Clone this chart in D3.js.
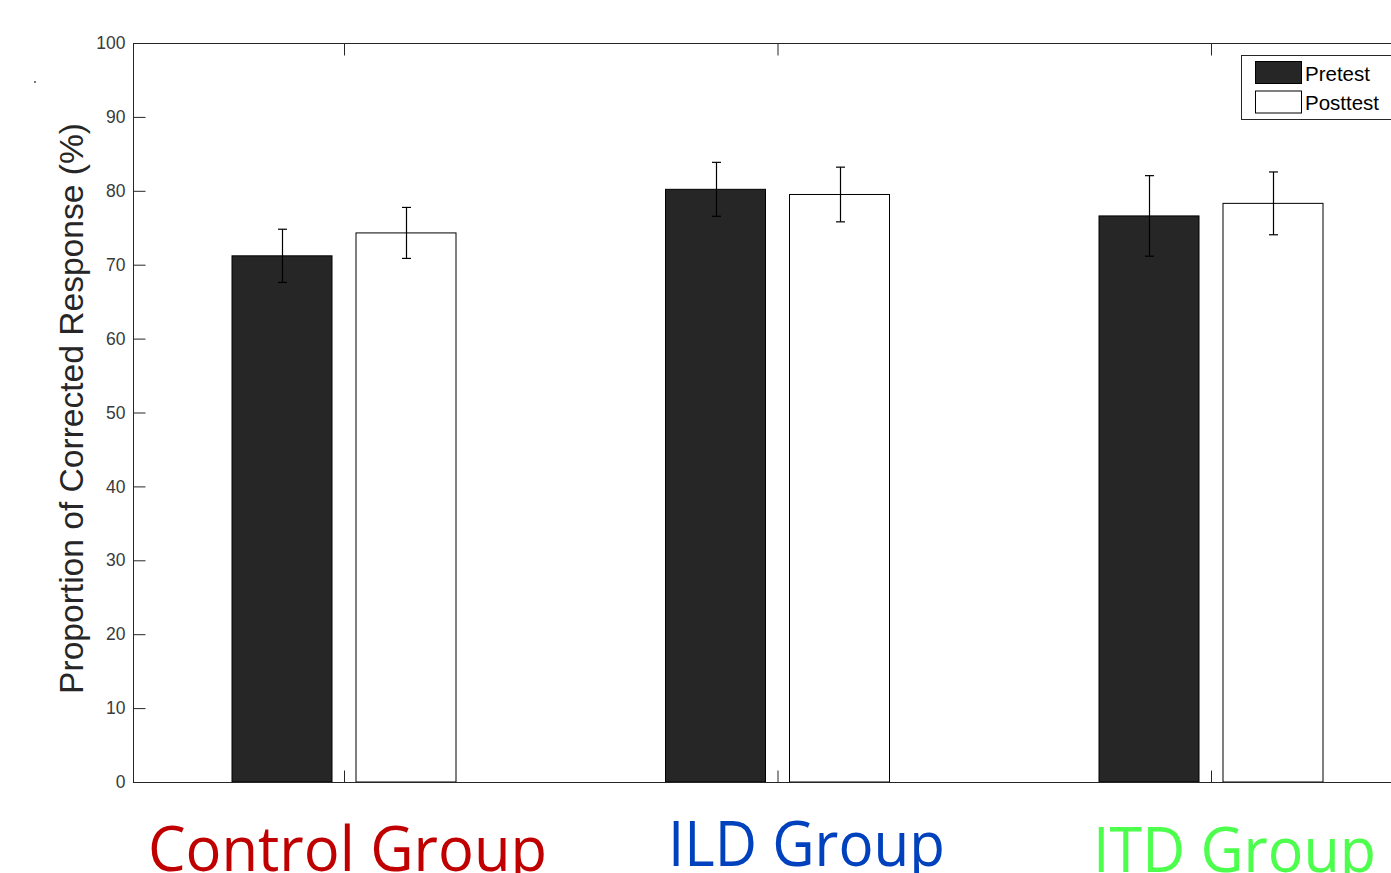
<!DOCTYPE html>
<html><head><meta charset="utf-8">
<script src="https://cdn.jsdelivr.net/npm/d3@7"></script>
<style>body{margin:0;background:#fff;}svg{display:block;}</style>
</head><body>
<svg id="chart" width="1391" height="873"></svg>
<script>
const groups = ["Control Group", "ILD Group", "ITD Group"];
const groupColors = ["#C00000", "#0041BD", "#4DFF4D"];
const seriesNames = ["Pretest", "Posttest"];
const seriesFill = ["#262626", "#ffffff"];
const pretest = [71.2, 80.2, 76.6];
const posttest = [74.3, 79.5, 78.3];
const pretestErr = [3.6, 3.65, 5.45];
const posttestErr = [3.45, 3.7, 4.25];
const yTicks = [0, 10, 20, 30, 40, 50, 60, 70, 80, 90, 100];
const yLabel = "Proportion of Corrected Response (%)";

(function () {
const svg = d3.select("#chart");
const axisColor = "#262626";
const pLeft = 133, pRight = 1400, pTop = 43, pBottom = 782;

const y = d3.scaleLinear().domain([0, 100]).range([pBottom, pTop]);
const x = d3.scaleLinear().domain([1, 3]).range([344, 1211]);
const barW = 100, offset = 62;

svg.append("line").attr("x1", pLeft).attr("x2", pRight).attr("y1", pTop + 0.5).attr("y2", pTop + 0.5).attr("stroke", axisColor);

const series = [pretest, posttest];
const errs = [pretestErr, posttestErr];
series.forEach((vals, s) => {
  const dx = s === 0 ? -offset : offset;
  svg.append("g").selectAll("rect").data(vals).join("rect")
    .attr("x", (d, i) => x(i + 1) + dx - barW / 2)
    .attr("y", d => y(d))
    .attr("width", barW)
    .attr("height", d => y(0) - y(d))
    .attr("fill", seriesFill[s])
    .attr("stroke", "#000").attr("stroke-width", 1);
});
series.forEach((vals, s) => {
  const dx = s === 0 ? -offset : offset;
  const g = svg.append("g").attr("stroke", "#000").attr("stroke-width", 1.2);
  vals.forEach((v, i) => {
    const cx = Math.round(x(i + 1) + dx) + 0.5;
    const e = errs[s][i];
    g.append("line").attr("x1", cx).attr("x2", cx).attr("y1", y(v + e)).attr("y2", y(v - e));
    g.append("line").attr("x1", cx - 4.5).attr("x2", cx + 4.5).attr("y1", y(v + e)).attr("y2", y(v + e));
    g.append("line").attr("x1", cx - 4.5).attr("x2", cx + 4.5).attr("y1", y(v - e)).attr("y2", y(v - e));
  });
});

const yAxis = d3.axisLeft(y).tickValues(yTicks).tickSize(-12).tickPadding(19);
const yg = svg.append("g").attr("transform", `translate(${pLeft + 0.5},0)`).call(yAxis);
yg.select(".domain").attr("stroke", axisColor).attr("d", `M0,${pTop}V${pBottom}`);
yg.selectAll(".tick line").attr("stroke", axisColor);
yg.selectAll(".tick text").attr("fill", "#3a3a3a").attr("font-family", "Liberation Sans, Arial, sans-serif").attr("font-size", 17.5).attr("x", -8);

const xAxis = d3.axisBottom(x).tickValues([1, 2, 3]).tickSize(-12).tickFormat("");
const xg = svg.append("g").attr("transform", `translate(0,${pBottom + 0.5})`).call(xAxis);
xg.select(".domain").attr("stroke", axisColor).attr("d", `M${pLeft},0H${pRight}`);
xg.selectAll(".tick line").attr("stroke", axisColor);
const xAxisTop = d3.axisTop(x).tickValues([1, 2, 3]).tickSize(-12).tickFormat("");
const xt = svg.append("g").attr("transform", `translate(0,${pTop + 0.5})`).call(xAxisTop);
xt.select(".domain").remove();
xt.selectAll(".tick line").attr("stroke", axisColor);

const yl = svg.append("text")
  .attr("transform", `translate(83,${(694 + 123) / 2}) rotate(-90)`)
  .attr("text-anchor", "middle")
  .attr("font-family", "Liberation Sans, Arial, sans-serif")
  .attr("font-size", 30)
  .attr("fill", axisColor)
  .text(yLabel);
const len = yl.node().getComputedTextLength();
yl.attr("font-size", 30 * 571 / len);

const labelSpans = [[148, 547, 871], [668, 945, 866], [1093, 1376, 872]];
groups.forEach((g, i) => {
  const t = svg.append("text")
    .attr("x", labelSpans[i][0])
    .attr("y", labelSpans[i][2])
    .attr("font-family", "Open Sans, Noto Sans, sans-serif")
    .attr("font-size", 62)
    .attr("fill", groupColors[i])
    .text(g);
  t.attr("textLength", labelSpans[i][1] - labelSpans[i][0]).attr("lengthAdjust", "spacingAndGlyphs");
});

const lg = svg.append("g");
lg.append("rect").attr("x", 1241.5).attr("y", 55.5).attr("width", 170).attr("height", 64)
  .attr("fill", "#fff").attr("stroke", axisColor);
seriesNames.forEach((n, i) => {
  lg.append("rect").attr("x", 1255.5).attr("y", 61.5 + i * 29.5).attr("width", 46).attr("height", 22)
    .attr("fill", seriesFill[i]).attr("stroke", "#000");
  lg.append("text").attr("x", 1305).attr("y", 80.5 + i * 29.5)
    .attr("font-family", "Liberation Sans, Arial, sans-serif").attr("font-size", 20.5)
    .attr("fill", "#000").text(n);
});

svg.append("rect").attr("x", 34).attr("y", 81).attr("width", 2).attr("height", 2).attr("fill", "#777");
})();
</script>
</body></html>
